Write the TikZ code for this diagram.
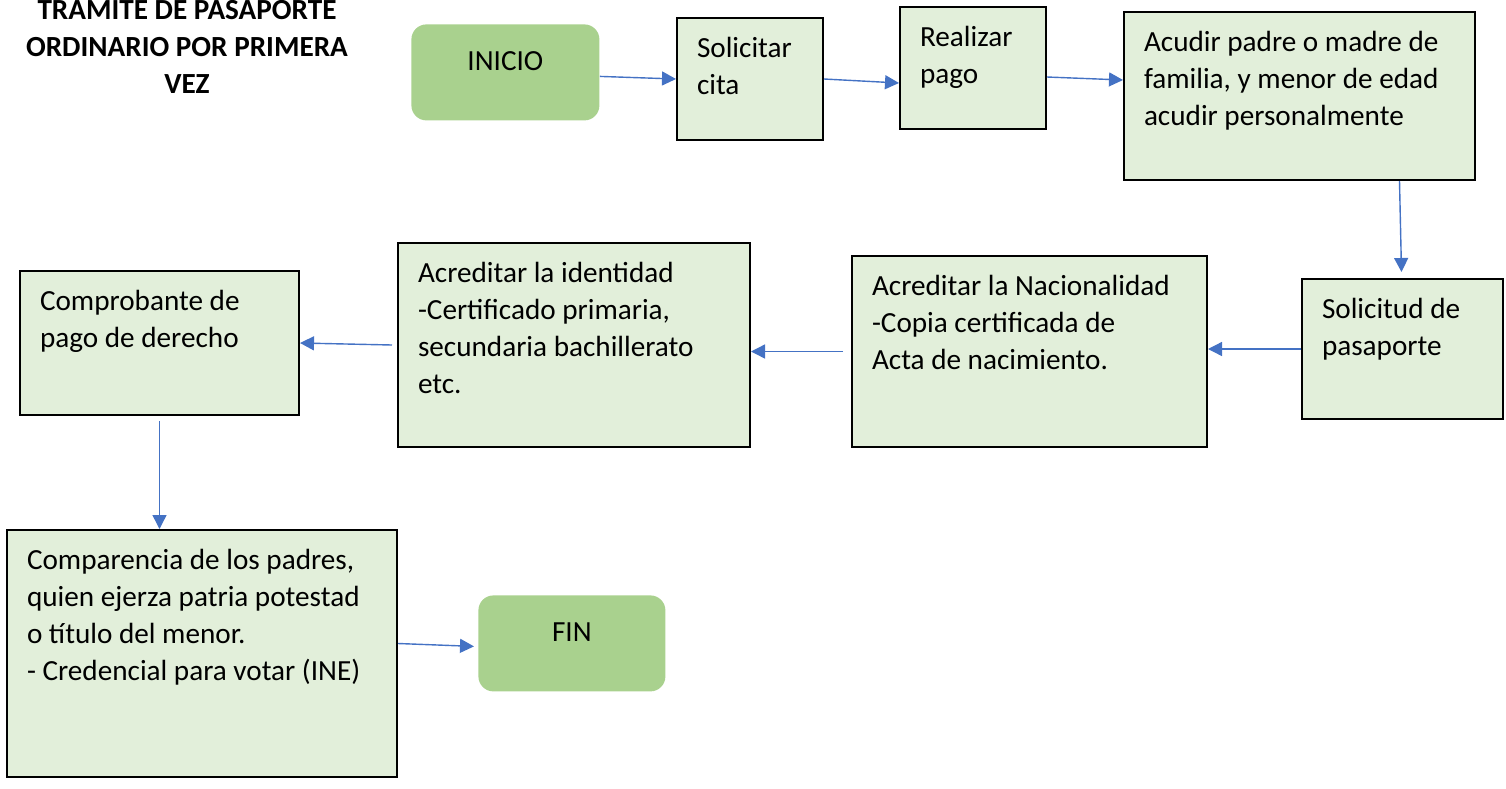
\documentclass[tikz,border=0pt]{standalone}
\usepackage{fontspec}
\setmainfont{Carlito}
\usetikzlibrary{arrows.meta}
\definecolor{cajaverde}{HTML}{E2EFDA}
\definecolor{verdeinicio}{HTML}{A9D18E}
\definecolor{azulflecha}{HTML}{4472C4}

\begin{document}
\begin{tikzpicture}[x=0.5pt,y=-0.5pt,font=\fontsize{14.6}{18.5}\selectfont,
	paso/.style 2 args={draw=black,line width=1pt,fill=cajaverde,anchor=north west,inner xsep=10pt,inner ysep=7pt,
		execute at begin node={\begin{minipage}[c][#2][t]{#1}\raggedright\strut},
		execute at end node={\end{minipage}}},
	extremo/.style={fill=verdeinicio,rounded corners=7.5pt,anchor=north west,inner xsep=10pt,inner ysep=10.3pt,
		execute at begin node={\begin{minipage}[c][27.4pt][t]{#1}\centering\strut},
		execute at end node={\end{minipage}}},
	flecha/.style={-{Triangle[length=7pt,width=7pt]},color=azulflecha,line width=0.7pt}]
	\useasboundingbox (0,0) rectangle (1506,788);
	\node[align=center,font=\fontsize{14.6}{18.5}\selectfont\bfseries] (titulo) at (187,47) {TRAMITE DE PASAPORTE\\ORDINARIO POR PRIMERA\\VEZ};
	\node[extremo=74pt] (inicio) at (411,24) {INICIO};
	\node[paso={53pt}{47pt}] (cita) at (676,17) {Solicitar\\cita};
	\node[paso={53pt}{47pt}] (pago) at (899,6) {Realizar\\pago};
	\node[paso={155.5pt}{70pt}] (acudir) at (1123,11) {Acudir padre o madre de\\familia, y menor de edad\\acudir personalmente};
	\node[paso={80.5pt}{56pt}] (solicitud) at (1301,278) {Solicitud de\\pasaporte};
	\node[paso={157.5pt}{81.5pt}] (nacionalidad) at (851,255) {Acreditar la Nacionalidad\\-Copia certificada de\\Acta de nacimiento.};
	\node[paso={156pt}{88pt}] (identidad) at (397,242) {Acreditar la identidad\\-Certificado primaria,\\secundaria bachillerato\\etc.};
	\node[paso={119.5pt}{58pt}] (comprobante) at (19,270) {Comprobante de\\pago de derecho};
	\node[paso={175pt}{109.5pt}] (comparencia) at (6,529) {Comparencia de los padres,\\quien ejerza patria potestad\\o título del menor.\\- Credencial para votar (INE)};
	\node[extremo=73.5pt] (fin) at (478,595) {FIN};
	\path[flecha]
		([yshift=-2pt]inicio.east) edge (cita.west)
		(cita.east) edge ([yshift=-7.5pt]pago.west)
		([yshift=-4.5pt]pago.east) edge ([yshift=8pt]acudir.west)
		([xshift=50pt]acudir.south) edge ([xshift=51pt,yshift=3pt]acudir.south |- solicitud.north)
		(solicitud.west) edge (solicitud.west -| nacionalidad.east)
		([xshift=-4pt]nacionalidad.west) edge (nacionalidad.west -| identidad.east)
		([xshift=-2.5pt]identidad.west) edge (comprobante.east)
		([yshift=-2.5pt]comprobante.south) edge (comprobante.south |- comparencia.north)
		([yshift=5pt]comparencia.east) edge ([xshift=-2pt,yshift=-1.5pt]fin.west)
		;
\end{tikzpicture}
\end{document}
